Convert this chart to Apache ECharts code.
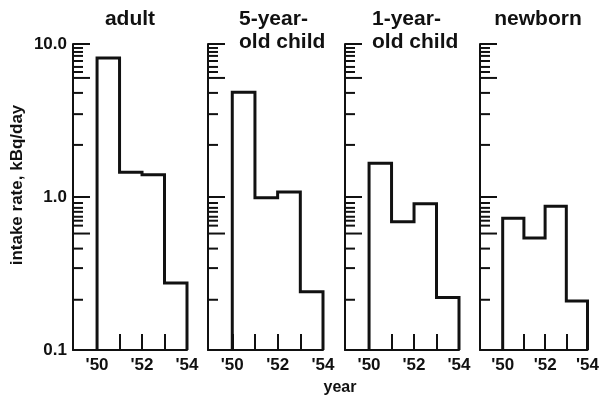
<!DOCTYPE html>
<html><head><meta charset="utf-8">
<script src="https://cdn.jsdelivr.net/npm/echarts@6/dist/echarts.min.js"></script>
<style>html,body{margin:0;padding:0;background:#fff}#c{width:602px;height:395px}</style>
</head><body><div id="c"></div>
<script>
// ---- data ----
const panelTitles = ['adult', '5-year-\nold child', '1-year-\nold child', 'newborn'];
const years = [1950, 1951, 1952, 1953, 1954];
const adult = [8.1, 1.45, 1.40, 0.274];
const child5 = [4.83, 0.99, 1.08, 0.24];
const child1 = [1.66, 0.69, 0.905, 0.22];
const newborn = [0.727, 0.54, 0.87, 0.209];
const yTickValues = [0.1, 1, 10];
const yTickLabels = ['0.1', '1.0', '10.0'];
const xTickValues = [1950, 1951, 1952, 1953, 1954];
const xLabelValues = [1950, 1952, 1954];
const xLabelText = ["'50", "'52", "'54"];
const minorTicks = [9.42, 8.87, 8.36, 7.74, 7.08, 6.56, 6.0, 4.79, 3.48, 2.19,
                    0.914, 0.849, 0.80, 0.743, 0.70, 0.65, 0.577, 0.46, 0.343, 0.213];
const longMinorTicks = [6.0, 0.577];
const yAxisName = 'intake rate, kBq/day';
const xAxisName = 'year';

// ---- layout ----
const X_MIN = 1948.93, X_MAX = 1954, Y_MIN = 0.1, Y_MAX = 10;
const gridLefts = [73, 208, 345, 480];
const gridWidths = [114, 115, 114, 113];
const GRID_TOP = 44, GRID_H = 306;
const FONT = '"Liberation Sans", Arial, Helvetica, sans-serif';
const INK = '#111';
const seriesVals = [adult, child5, child1, newborn];

function outline(vals) {
  const pts = [[years[0], Y_MIN]];
  vals.forEach((v, i) => { pts.push([years[i], v]); pts.push([years[i + 1], v]); });
  pts.push([years[years.length - 1], Y_MIN]);
  return pts;
}

const grid = [], xAxis = [], yAxis = [], series = [];
for (let i = 0; i < 4; i++) {
  grid.push({left: gridLefts[i], width: gridWidths[i], top: GRID_TOP, height: GRID_H});
  xAxis.push({
    type: 'value', gridIndex: i, min: X_MIN, max: X_MAX,
    splitLine: {show: false},
    axisLine: {lineStyle: {color: INK, width: 2}},
    axisTick: {show: true, inside: true, length: 16, customValues: xTickValues, lineStyle: {color: INK, width: 2}},
    axisLabel: {show: true, customValues: xLabelValues, margin: 7, color: INK, fontSize: 17, fontWeight: 'bold', fontFamily: FONT,
      formatter: v => { const k = xLabelValues.indexOf(Math.round(v)); return k >= 0 ? xLabelText[k] : ''; }}
  });
  yAxis.push({
    type: 'log', gridIndex: i, min: Y_MIN, max: Y_MAX, logBase: 10,
    splitLine: {show: false},
    axisLine: {show: true, lineStyle: {color: INK, width: 2}},
    axisTick: {show: true, inside: true, length: 17, lineStyle: {color: INK, width: 2}},
    minorTick: {show: false},
    axisLabel: {show: i === 0, margin: 6, color: INK, fontSize: 17, fontWeight: 'bold', fontFamily: FONT,
      formatter: v => { let best = 0; yTickValues.forEach((t, k) => { if (Math.abs(Math.log10(t) - Math.log10(v)) < Math.abs(Math.log10(yTickValues[best]) - Math.log10(v))) best = k; }); return yTickLabels[best]; }}
  });
  series.push({
    type: 'line', xAxisIndex: i, yAxisIndex: i, data: outline(seriesVals[i]),
    symbol: 'none', silent: true, animation: false,
    lineStyle: {color: INK, width: 3, join: 'miter'}
  });
  series.push({
    type: 'custom', xAxisIndex: i, yAxisIndex: i, animation: false, silent: true,
    data: minorTicks.map(v => [X_MIN, v]),
    renderItem: (params, api) => {
      const v = api.value(1);
      const p = api.coord([api.value(0), v]);
      const len = longMinorTicks.indexOf(v) >= 0 ? 17 : 10;
      return {type: 'line', shape: {x1: p[0], y1: p[1], x2: p[0] + len, y2: p[1]}, style: {stroke: INK, lineWidth: 2}};
    }
  });
}

const titleStyle = {fill: INK, font: 'bold 21px ' + FONT, lineHeight: 23};
const graphic = [
  {type: 'text', x: 130, y: 8, style: Object.assign({text: panelTitles[0], textAlign: 'center', textVerticalAlign: 'top'}, titleStyle)},
  {type: 'text', x: 239, y: 8, style: Object.assign({text: panelTitles[1], textAlign: 'left', textVerticalAlign: 'top'}, titleStyle)},
  {type: 'text', x: 372, y: 8, style: Object.assign({text: panelTitles[2], textAlign: 'left', textVerticalAlign: 'top'}, titleStyle)},
  {type: 'text', x: 538, y: 8, style: Object.assign({text: panelTitles[3], textAlign: 'center', textVerticalAlign: 'top'}, titleStyle)},
  {type: 'text', x: 17, y: 185, rotation: Math.PI / 2, style: {text: yAxisName, fill: INK, font: 'bold 17px ' + FONT, textAlign: 'center', textVerticalAlign: 'middle'}},
  {type: 'text', x: 340, y: 388, style: {text: xAxisName, fill: INK, font: 'bold 16px ' + FONT, textAlign: 'center', textVerticalAlign: 'middle'}}
];

const chart = echarts.init(document.getElementById('c'), null, {renderer: 'canvas'});
chart.setOption({animation: false, backgroundColor: '#fff', grid, xAxis, yAxis, series, graphic});
</script></body></html>
